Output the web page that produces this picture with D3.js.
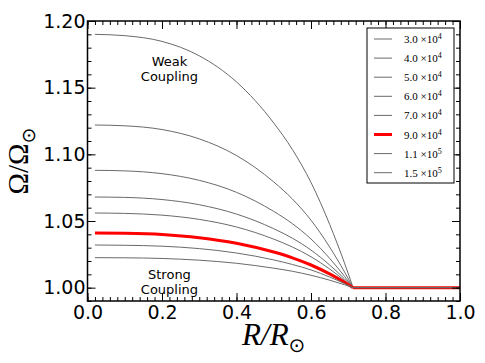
<!DOCTYPE html>
<html>
<head>
<meta charset="utf-8">
<script src="https://cdnjs.cloudflare.com/ajax/libs/d3/7.8.5/d3.min.js"></script>
<style>
  body { margin: 0; background: #fff; }
  svg { display: block; }
</style>
</head>
<body>
<div id="chart"></div>
<script>
var radius = [0.02, 0.1, 0.2, 0.3, 0.4, 0.5, 0.55, 0.6, 0.65, 0.69, 0.713, 1.0]

// Omega / Omega_sun for each coupling value
var omega_3_0e4 = [1.190, 1.189, 1.1847, 1.1739, 1.1543, 1.1235, 1.1036, 1.0789, 1.0475, 1.0184, 1.0, 1.0]
var omega_4_0e4 = [1.122, 1.1214, 1.1186, 1.1116, 1.0991, 1.0793, 1.0665, 1.0506, 1.0305, 1.0118, 1.0, 1.0]
var omega_5_0e4 = [1.088, 1.0876, 1.0855, 1.0805, 1.0715, 1.0572, 1.048, 1.0365, 1.022, 1.0085, 1.0, 1.0]
var omega_6_0e4 = [1.068, 1.0677, 1.0661, 1.0622, 1.0552, 1.0442, 1.0371, 1.0282, 1.017, 1.0066, 1.0, 1.0]
var omega_7_0e4 = [1.056, 1.0557, 1.0544, 1.0512, 1.0455, 1.0364, 1.0305, 1.0232, 1.014, 1.0054, 1.0, 1.0]
var omega_9_0e4 = [1.041, 1.0408, 1.0399, 1.0375, 1.0333, 1.0267, 1.0224, 1.017, 1.0103, 1.004, 1.0, 1.0]
var omega_1_1e5 = [1.032, 1.0318, 1.0311, 1.0293, 1.026, 1.0208, 1.0174, 1.0133, 1.008, 1.0031, 1.0, 1.0]
var omega_1_5e5 = [1.0225, 1.0224, 1.0219, 1.0206, 1.0183, 1.0146, 1.0123, 1.0093, 1.0056, 1.0022, 1.0, 1.0]

var mantissas = ["3.0", "4.0", "5.0", "6.0", "7.0", "9.0", "1.1", "1.5"]
var exponents = ["4", "4", "4", "4", "4", "4", "5", "5"]
var highlighted = 5   // the 9.0x10^4 run is drawn in red

var xTicks = [0.0, 0.2, 0.4, 0.6, 0.8, 1.0]
var yTicks = [1.00, 1.05, 1.10, 1.15, 1.20]

var annotations = [
    {text: "Weak", r: 0.22, w: 1.1665},
    {text: "Coupling", r: 0.22, w: 1.1552},
    {text: "Strong", r: 0.22, w: 1.0065},
    {text: "Coupling", r: 0.22, w: 0.9953}
]

var series = [omega_3_0e4, omega_4_0e4, omega_5_0e4, omega_6_0e4,
              omega_7_0e4, omega_9_0e4, omega_1_1e5, omega_1_5e5]

var width = 485, height = 363
var margin = {top: 21, right: 25, bottom: 62, left: 87.5}

var svg = d3.select("#chart").append("svg")
    .attr("width", width)
    .attr("height", height)

var x = d3.scaleLinear().domain([0, 1]).range([margin.left, width - margin.right])
var y = d3.scaleLinear().domain([0.99, 1.20]).range([height - margin.bottom, margin.top])

// curved part up to the convergence radius, flat part afterwards
var curved = d3.line().x(d => x(d[0])).y(d => y(d[1])).curve(d3.curveMonotoneX)
var flat = d3.line().x(d => x(d[0])).y(d => y(d[1]))

series.forEach((vals, i) => {
    var pts = radius.map((r, k) => [r, vals[k]])
    var isRed = i === highlighted
    var g = svg.append("g")
        .attr("fill", "none")
        .attr("stroke", isRed ? "#ff0000" : "#6a6a6a")
        .attr("stroke-width", isRed ? 3 : 1)
    g.append("path").attr("d", curved(pts.slice(0, pts.length - 1)))
    g.append("path").attr("d", flat(pts.slice(pts.length - 2)))
})

// annotations
svg.selectAll("text.note")
    .data(annotations)
    .enter()
    .append("text")
    .attr("class", "note")
    .attr("x", d => x(d.r))
    .attr("y", d => y(d.w))
    .attr("text-anchor", "middle")
    .style("font-family", "DejaVu Sans")
    .style("font-size", "13px")
    .text(d => d.text)

// axes: ticks inside, on all four sides
var xMinor = d3.range(0, 1.0001, 0.02)
var yMinor = d3.range(0.99, 1.2001, 0.01)

function tickSet(axis, scale, values, size, labels) {
    var a = axis(scale).tickValues(values).tickSizeInner(-size).tickSizeOuter(0).tickPadding(size + 6)
    if (!labels) a.tickFormat("")
    return a
}

var bottomY = height - margin.bottom
var rightX = width - margin.right

svg.append("g").attr("transform", `translate(0,${bottomY})`)
    .call(tickSet(d3.axisBottom, x, xMinor, 4, false))
svg.append("g").attr("transform", `translate(0,${bottomY})`)
    .call(tickSet(d3.axisBottom, x, xTicks, 8, true).tickFormat(d3.format(".1f")).tickPadding(4))
svg.append("g").attr("transform", `translate(0,${margin.top})`)
    .call(tickSet(d3.axisTop, x, xMinor, 4, false))
svg.append("g").attr("transform", `translate(0,${margin.top})`)
    .call(tickSet(d3.axisTop, x, xTicks, 8, false))

svg.append("g").attr("transform", `translate(${margin.left},0)`)
    .call(tickSet(d3.axisLeft, y, yMinor, 4, false))
svg.append("g").attr("transform", `translate(${margin.left},0)`)
    .call(tickSet(d3.axisLeft, y, yTicks, 8, true).tickFormat(d3.format(".2f")).tickPadding(2))
svg.append("g").attr("transform", `translate(${rightX},0)`)
    .call(tickSet(d3.axisRight, y, yMinor, 4, false))
svg.append("g").attr("transform", `translate(${rightX},0)`)
    .call(tickSet(d3.axisRight, y, yTicks, 8, false))

svg.selectAll(".domain").remove()
svg.selectAll(".tick line").attr("stroke", "#000").attr("stroke-width", 1)
svg.selectAll(".tick text")
    .style("font-family", "DejaVu Sans")
    .style("font-size", "19px")
    .attr("fill", "#000")

// frame
svg.append("rect")
    .attr("x", margin.left)
    .attr("y", margin.top)
    .attr("width", rightX - margin.left)
    .attr("height", bottomY - margin.top)
    .attr("fill", "none")
    .attr("stroke", "#000")
    .attr("stroke-width", 1.5)

// axis labels
var xl = svg.append("text")
    .attr("x", (margin.left + rightX) / 2)
    .attr("y", 345)
    .attr("text-anchor", "middle")
    .style("font-family", "Liberation Serif")
    .style("font-size", "31px")
xl.append("tspan").style("font-style", "italic").text("R/R")
xl.append("tspan").attr("dy", 7).style("font-size", "20px").style("font-family", "DejaVu Sans").text("\u2299")

var yl = svg.append("text")
    .attr("transform", `translate(28,${(margin.top + bottomY) / 2}) rotate(-90)`)
    .attr("text-anchor", "middle")
    .style("font-family", "Liberation Serif")
    .style("font-size", "29px")
yl.append("tspan").text("\u03A9/\u03A9")
yl.append("tspan").attr("dy", 7).style("font-size", "19px").style("font-family", "DejaVu Sans").text("\u2299")

// legend
var lg = svg.append("g").attr("transform", "translate(367,28)")
lg.append("rect")
    .attr("width", 87)
    .attr("height", 155)
    .attr("fill", "#fff")
    .attr("stroke", "#000")
    .attr("stroke-width", 1)

var rows = lg.selectAll("g.row")
    .data(mantissas)
    .enter()
    .append("g")
    .attr("class", "row")
    .attr("transform", (d, i) => `translate(0,${11 + i * 19.1})`)

rows.append("line")
    .attr("x1", 7).attr("x2", 25)
    .attr("stroke", (d, i) => i === highlighted ? "#ff0000" : "#6a6a6a")
    .attr("stroke-width", (d, i) => i === highlighted ? 3 : 1)

var lt = rows.append("text")
    .attr("x", 37)
    .attr("y", 4)
    .style("font-family", "Liberation Serif")
    .style("font-size", "11px")
lt.append("tspan").text(d => d + " \u00D710")
lt.append("tspan").attr("dy", -4).style("font-size", "8px").text((d, i) => exponents[i])
</script>
</body>
</html>
